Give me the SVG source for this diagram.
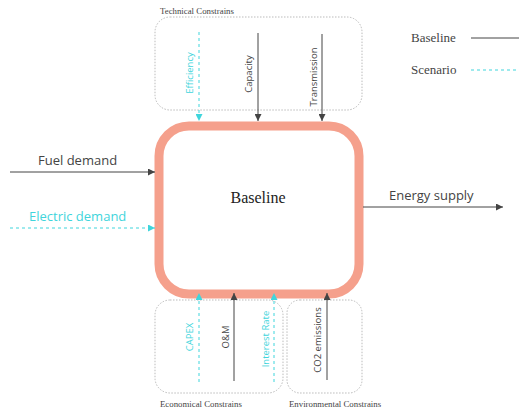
<svg xmlns="http://www.w3.org/2000/svg" width="519" height="410" viewBox="0 0 519 410">
<style>
.grp{fill:none;stroke:#aaa;stroke-width:0.8;stroke-dasharray:1.5 1.5}
.cap{font-family:"Liberation Serif",serif;font-size:8.8px;fill:#444}
.base{stroke:#444;stroke-width:1;fill:none}
.scen{stroke:#3fd5dc;stroke-width:1;fill:none;stroke-dasharray:3 3}
.lb{font-family:"Open Sans","Noto Sans",sans-serif;font-size:9.5px;fill:#444}
.ls{font-family:"Open Sans","Noto Sans",sans-serif;font-size:9.5px;fill:#3fd5dc}
.big{font-family:"Open Sans","Noto Sans",sans-serif;font-size:13px;fill:#444}
.bigs{font-family:"Open Sans","Noto Sans",sans-serif;font-size:13px;fill:#3fd5dc}
</style>
<defs>
<marker id="ag" viewBox="0 0 10 10" refX="10" refY="5" markerWidth="7" markerHeight="7" markerUnits="userSpaceOnUse" orient="auto"><path d="M0,0 L10,5 L0,10 z" fill="#444"/></marker>
<marker id="ac" viewBox="0 0 10 10" refX="10" refY="5" markerWidth="7" markerHeight="7" markerUnits="userSpaceOnUse" orient="auto"><path d="M0,0 L10,5 L0,10 z" fill="#3fd5dc"/></marker>
</defs>
<g id="technical">
<rect class="grp" x="155" y="17" width="207" height="93" rx="15"/>
<text class="cap" x="160" y="14">Technical Constrains</text>
</g>
<g id="economical">
<rect class="grp" x="155" y="300" width="128" height="93" rx="15"/>
<text class="cap" x="160" y="407">Economical Constrains</text>
</g>
<g id="environmental">
<rect class="grp" x="287" y="300" width="75" height="93" rx="13"/>
<text class="cap" x="289" y="407">Environmental Constrains</text>
</g>
<g id="baseline-node">
<rect x="159" y="126" width="200" height="168" rx="30" fill="#fff" stroke="#f5a08c" stroke-width="9"/>
<text x="258" y="203" text-anchor="middle" font-family="Liberation Serif,serif" font-size="16" fill="#222">Baseline</text>
</g>
<g id="legend">
<text x="411" y="42" font-family="Liberation Serif,serif" font-size="13" fill="#444">Baseline</text>
<line class="base" x1="471" y1="38" x2="519" y2="38"/>
<text x="411" y="74" font-family="Liberation Serif,serif" font-size="13" fill="#444">Scenario</text>
<line class="scen" x1="471" y1="70" x2="519" y2="70" stroke-dasharray="2 2"/>
</g>
<g id="connectors">
<line class="scen" x1="199" y1="32" x2="199" y2="121" marker-end="url(#ac)"/>
<line class="base" x1="258" y1="33" x2="258" y2="121" marker-end="url(#ag)"/>
<line class="base" x1="322" y1="34" x2="322" y2="121" marker-end="url(#ag)"/>
<line class="base" x1="10" y1="172" x2="155" y2="172" marker-end="url(#ag)"/>
<line class="scen" x1="10" y1="228" x2="155" y2="228" marker-end="url(#ac)"/>
<line class="base" x1="363" y1="207" x2="503" y2="207" marker-end="url(#ag)"/>
<line class="scen" x1="199" y1="382" x2="199" y2="293" marker-end="url(#ac)"/>
<line class="base" x1="234" y1="381" x2="234" y2="293" marker-end="url(#ag)"/>
<line class="scen" x1="274" y1="382" x2="274" y2="293" marker-end="url(#ac)"/>
<line class="base" x1="327" y1="380" x2="327" y2="293" marker-end="url(#ag)"/>
</g>
<g id="labels">
<text class="ls" transform="translate(193,73) rotate(-90)" text-anchor="middle">Efficiency</text>
<text class="lb" transform="translate(252,74) rotate(-90)" text-anchor="middle">Capacity</text>
<text class="lb" transform="translate(317,77) rotate(-90)" text-anchor="middle">Transmission</text>
<text class="big" x="38" y="165">Fuel demand</text>
<text class="bigs" x="29" y="221">Electric demand</text>
<text class="big" x="389" y="200">Energy supply</text>
<text class="ls" transform="translate(193,337) rotate(-90)" text-anchor="middle">CAPEX</text>
<text class="lb" transform="translate(229,337) rotate(-90)" text-anchor="middle">O&amp;M</text>
<text class="ls" transform="translate(269,339) rotate(-90)" text-anchor="middle">Interest Rate</text>
<text class="lb" transform="translate(321,340) rotate(-90)" text-anchor="middle">CO2 emissions</text>
</g>
</svg>
